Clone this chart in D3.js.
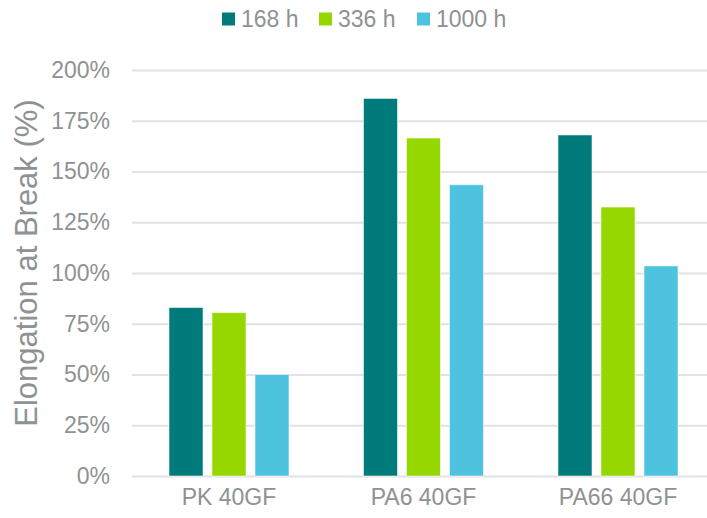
<!DOCTYPE html>
<html>
<head>
<meta charset="utf-8">
<script src="https://cdn.jsdelivr.net/npm/d3@7"></script>
<style>
  html, body { margin: 0; padding: 0; background: #fff; }
  svg { display: block; font-family: "Liberation Sans", Arial, sans-serif; }
</style>
</head>
<body>
<svg id="chart" width="707" height="518"></svg>
<script>
// Elongation at break after heat ageing, per material and exposure time
const categories = ["PK 40GF", "PA6 40GF", "PA66 40GF"];
const series = ["168 h", "336 h", "1000 h"];
const colors = ["#007A7A", "#97D700", "#4EC3E0"];
const values168 = [83, 186, 168];
const values336 = [80.5, 166.5, 132.5];
const values1000 = [50, 143.5, 103.5];
const yTicks = [0, 25, 50, 75, 100, 125, 150, 175, 200];
const yTitle = "Elongation at Break (%)";

const seriesValues = [values168, values336, values1000];
const data = categories.map((c, i) => ({
  category: c,
  values: series.map((s, j) => ({ series: s, value: seriesValues[j][i], color: colors[j] }))
}));

const svg = d3.select("#chart");
const textColor = "#8E9292";
const plotLeft = 131.75, plotRight = 715.25;

const x0 = d3.scaleBand().domain(categories).range([plotLeft, plotRight]).padding(0);
const groupWidth = 120;
const x1 = d3.scaleBand().domain(series).range([0, groupWidth]).paddingInner(0.2093).paddingOuter(0);
const y = d3.scaleLinear().domain([0, 200]).range([476, 70]);

// gridlines
const grid = svg.append("g")
  .attr("transform", `translate(${plotLeft},0)`)
  .call(d3.axisLeft(y).tickValues(yTicks).tickSize(-(plotRight - plotLeft)).tickFormat(""));
grid.select(".domain").remove();
grid.selectAll(".tick line").attr("stroke", "#E2E2E2").attr("stroke-width", 2);

// y tick labels
const yAxis = svg.append("g")
  .attr("transform", "translate(110,0)")
  .call(d3.axisLeft(y).tickValues(yTicks).tickSize(0).tickPadding(0).tickFormat(d => d + "%"));
yAxis.select(".domain").remove();
yAxis.selectAll("text")
  .attr("fill", textColor)
  .attr("font-size", 23)
  .attr("font-family", "Liberation Sans, Arial, sans-serif");

// y title
svg.append("text")
  .attr("transform", "translate(37,263) rotate(-90)")
  .attr("text-anchor", "middle")
  .attr("fill", textColor)
  .attr("font-size", 31)
  .text(yTitle);

// bars
const groups = svg.append("g").selectAll("g")
  .data(data)
  .join("g")
  .attr("transform", d => `translate(${x0(d.category) + (x0.bandwidth() - groupWidth) / 2},0)`);

groups.selectAll("rect")
  .data(d => d.values)
  .join("rect")
  .attr("x", d => x1(d.series))
  .attr("y", d => y(d.value))
  .attr("width", x1.bandwidth())
  .attr("height", d => y(0) - y(d.value))
  .attr("fill", d => d.color)
  .attr("stroke", "rgba(255,255,255,0.55)")
  .attr("stroke-width", 1);

// x axis labels
const xAxis = svg.append("g")
  .attr("transform", "translate(0,476)")
  .call(d3.axisBottom(x0).tickSize(0).tickPadding(13));
xAxis.select(".domain").remove();
xAxis.selectAll("text")
  .attr("fill", textColor)
  .attr("font-size", 23)
  .attr("font-family", "Liberation Sans, Arial, sans-serif");

// legend
const legendX = [222, 319, 417];
const legend = svg.append("g").selectAll("g")
  .data(series)
  .join("g")
  .attr("transform", (d, i) => `translate(${legendX[i]},0)`);
legend.append("rect")
  .attr("x", 0).attr("y", 12.5)
  .attr("width", 13).attr("height", 13)
  .attr("fill", (d, i) => colors[i]);
legend.append("text")
  .attr("x", 19).attr("y", 27)
  .attr("fill", textColor)
  .attr("font-size", 23)
  .text(d => d);
</script>
</body>
</html>
